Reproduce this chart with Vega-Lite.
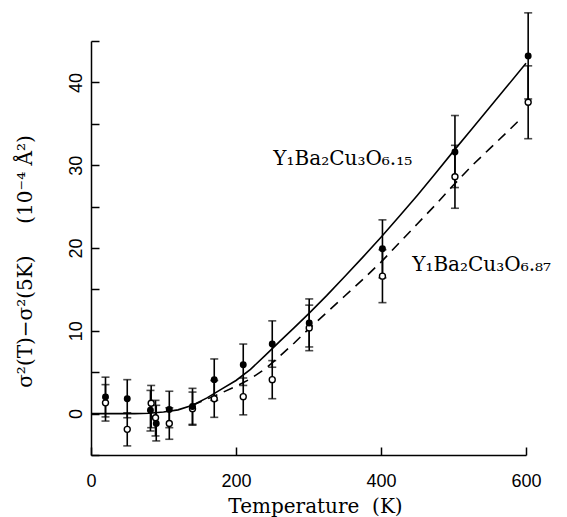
{
  "$schema": "https://vega.github.io/schema/vega-lite/v6.json",
  "width": 435,
  "height": 414,
  "autosize": "none",
  "padding": {"left": 91, "top": 41, "right": 41, "bottom": 62},
  "background": "white",
  "config": {
    "view": {"stroke": null},
    "axis": {"grid": false, "domainColor": "black", "tickColor": "black", "labelColor": "black", "titleColor": "black", "domainWidth": 1.5, "tickWidth": 1.5}
  },
  "datasets": {
    "points": [
      {"T": 20, "y": 2.0, "lo": -0.4, "hi": 4.4, "s": "6.15"},
      {"T": 20, "y": 1.3, "lo": -0.9, "hi": 3.5, "s": "6.87"},
      {"T": 50, "y": 1.8, "lo": -0.5, "hi": 4.1, "s": "6.15"},
      {"T": 50, "y": -1.9, "lo": -3.9, "hi": 0.1, "s": "6.87"},
      {"T": 82, "y": 0.4, "lo": -2.1, "hi": 2.8, "s": "6.15"},
      {"T": 83, "y": 1.25, "lo": -1.7, "hi": 3.4, "s": "6.87"},
      {"T": 90, "y": -1.2, "lo": -3.3, "hi": 1.0, "s": "6.15"},
      {"T": 89, "y": -0.5, "lo": -2.7, "hi": 1.6, "s": "6.87"},
      {"T": 108, "y": 0.5, "lo": -1.7, "hi": 2.7, "s": "6.15"},
      {"T": 108, "y": -1.2, "lo": -3.1, "hi": 0.7, "s": "6.87"},
      {"T": 140, "y": 0.85, "lo": -1.4, "hi": 3.05, "s": "6.15"},
      {"T": 140, "y": 0.6, "lo": -1.3, "hi": 2.6, "s": "6.87"},
      {"T": 170, "y": 4.1, "lo": 1.6, "hi": 6.6, "s": "6.15"},
      {"T": 170, "y": 1.8, "lo": -0.45, "hi": 4.0, "s": "6.87"},
      {"T": 210, "y": 5.9, "lo": 3.4, "hi": 8.4, "s": "6.15"},
      {"T": 210, "y": 2.05, "lo": -0.15, "hi": 4.3, "s": "6.87"},
      {"T": 250, "y": 8.4, "lo": 5.6, "hi": 11.2, "s": "6.15"},
      {"T": 250, "y": 4.1, "lo": 1.8, "hi": 6.4, "s": "6.87"},
      {"T": 301, "y": 10.95, "lo": 8.05, "hi": 13.85, "s": "6.15"},
      {"T": 301, "y": 10.35, "lo": 7.6, "hi": 13.1, "s": "6.87"},
      {"T": 402, "y": 19.9, "lo": 16.4, "hi": 23.4, "s": "6.15"},
      {"T": 402, "y": 16.6, "lo": 13.4, "hi": 19.8, "s": "6.87"},
      {"T": 502, "y": 31.6, "lo": 27.3, "hi": 36.0, "s": "6.15"},
      {"T": 502, "y": 28.6, "lo": 24.8, "hi": 32.4, "s": "6.87"},
      {"T": 603, "y": 43.2, "lo": 38.0, "hi": 48.4, "s": "6.15"},
      {"T": 603, "y": 37.6, "lo": 33.2, "hi": 42.0, "s": "6.87"}
    ],
    "solid": [
      {"T": 0, "y": 0}, {"T": 20, "y": 0}, {"T": 40, "y": 0}, {"T": 60, "y": 0},
      {"T": 80, "y": 0.05}, {"T": 100, "y": 0.2}, {"T": 120, "y": 0.45}, {"T": 140, "y": 1.0},
      {"T": 160, "y": 1.9}, {"T": 180, "y": 2.95}, {"T": 200, "y": 4.0}, {"T": 220, "y": 5.35},
      {"T": 240, "y": 7.0}, {"T": 260, "y": 8.7}, {"T": 280, "y": 10.35}, {"T": 300, "y": 12.05},
      {"T": 325, "y": 14.25}, {"T": 350, "y": 16.55}, {"T": 375, "y": 18.9}, {"T": 400, "y": 21.3},
      {"T": 425, "y": 23.8}, {"T": 450, "y": 26.35}, {"T": 475, "y": 29.0}, {"T": 500, "y": 31.7},
      {"T": 525, "y": 34.35}, {"T": 550, "y": 37.0}, {"T": 575, "y": 39.65}, {"T": 600, "y": 42.3}
    ],
    "dashed": [
      {"T": 140, "y": 1.0}, {"T": 160, "y": 1.75}, {"T": 180, "y": 2.5}, {"T": 200, "y": 3.3},
      {"T": 220, "y": 4.2}, {"T": 240, "y": 5.4}, {"T": 260, "y": 6.9}, {"T": 280, "y": 8.5},
      {"T": 300, "y": 10.2}, {"T": 325, "y": 12.2}, {"T": 350, "y": 14.2}, {"T": 375, "y": 16.2},
      {"T": 400, "y": 18.3}, {"T": 425, "y": 20.6}, {"T": 450, "y": 22.9}, {"T": 475, "y": 25.2},
      {"T": 500, "y": 27.6}, {"T": 525, "y": 29.9}, {"T": 550, "y": 32.0}, {"T": 575, "y": 34.1},
      {"T": 595, "y": 35.8}
    ],
    "labels": [
      {"T": 251.5, "y": 30.0, "text": "Y₁Ba₂Cu₃O₆.₁₅"},
      {"T": 443, "y": 17.2, "text": "Y₁Ba₂Cu₃O₆.₈₇"}
    ]
  },
  "encoding": {
    "x": {
      "field": "T", "type": "quantitative",
      "scale": {"domain": [0, 600], "nice": false, "zero": false},
      "axis": {
        "title": "Temperature\u00a0\u00a0(K)", "values": [0, 200, 400, 600], "tickSize": -8,
        "labelPadding": 25, "labelFont": "Liberation Sans", "labelFontSize": 18, "labelFlush": false,
        "titleFont": "DejaVu Serif", "titleFontSize": 20, "titleFontWeight": "normal",
        "titleX": 224, "titleY": 51, "titleBaseline": "middle"
      }
    },
    "y": {
      "field": "y", "type": "quantitative",
      "scale": {"domain": [-5, 45], "nice": false, "zero": false},
      "axis": {
        "title": "σ²(T)−σ²(5K)\u00a0\u00a0\u00a0\u00a0\u00a0(10⁻⁴ Å²)",
        "values": [-5, 0, 5, 10, 15, 20, 25, 30, 35, 40, 45],
        "labelExpr": "(datum.value % 10 === 0 && datum.value >= 0 && datum.value <= 40) ? datum.label : ''",
        "tickSize": -8, "labelAngle": 270, "labelAlign": "center", "labelBaseline": "alphabetic", "labelPadding": 18,
        "labelFont": "Liberation Sans", "labelFontSize": 18, "labelFlush": false,
        "titleFont": "DejaVu Serif", "titleFontSize": 20, "titleFontWeight": "normal",
        "titleX": -66, "titleY": 220, "titleBaseline": "middle", "titleAngle": 270
      }
    }
  },
  "layer": [
    {"data": {"name": "solid"}, "mark": {"type": "line", "color": "black", "strokeWidth": 1.6}},
    {"data": {"name": "dashed"}, "mark": {"type": "line", "color": "black", "strokeWidth": 1.6, "strokeDash": [10, 7]}},
    {"data": {"name": "points"},
      "transform": [{"fold": ["lo", "hi"], "as": ["k", "y"]}],
      "mark": {"type": "line", "color": "black", "strokeWidth": 1.6},
      "encoding": {"detail": [{"field": "T"}, {"field": "s"}], "order": {"field": "k"}}},
    {"data": {"name": "points"},
      "transform": [{"fold": ["lo", "hi"], "as": ["k", "y"]}],
      "mark": {"type": "tick", "orient": "horizontal", "color": "black", "size": 8, "thickness": 1.6}},
    {"data": {"name": "points"}, "transform": [{"filter": "datum.s === '6.87'"}],
      "mark": {"type": "point", "shape": "circle", "filled": false, "fill": "white", "fillOpacity": 1, "stroke": "black", "strokeWidth": 1.4, "size": 36, "opacity": 1}},
    {"data": {"name": "points"}, "transform": [{"filter": "datum.s === '6.15'"}],
      "mark": {"type": "point", "shape": "circle", "filled": true, "color": "black", "size": 48, "opacity": 1}},
    {"data": {"name": "labels"},
      "mark": {"type": "text", "align": "left", "baseline": "alphabetic", "font": "DejaVu Serif", "fontSize": 20, "color": "black"},
      "encoding": {"text": {"field": "text"}}}
  ]
}
